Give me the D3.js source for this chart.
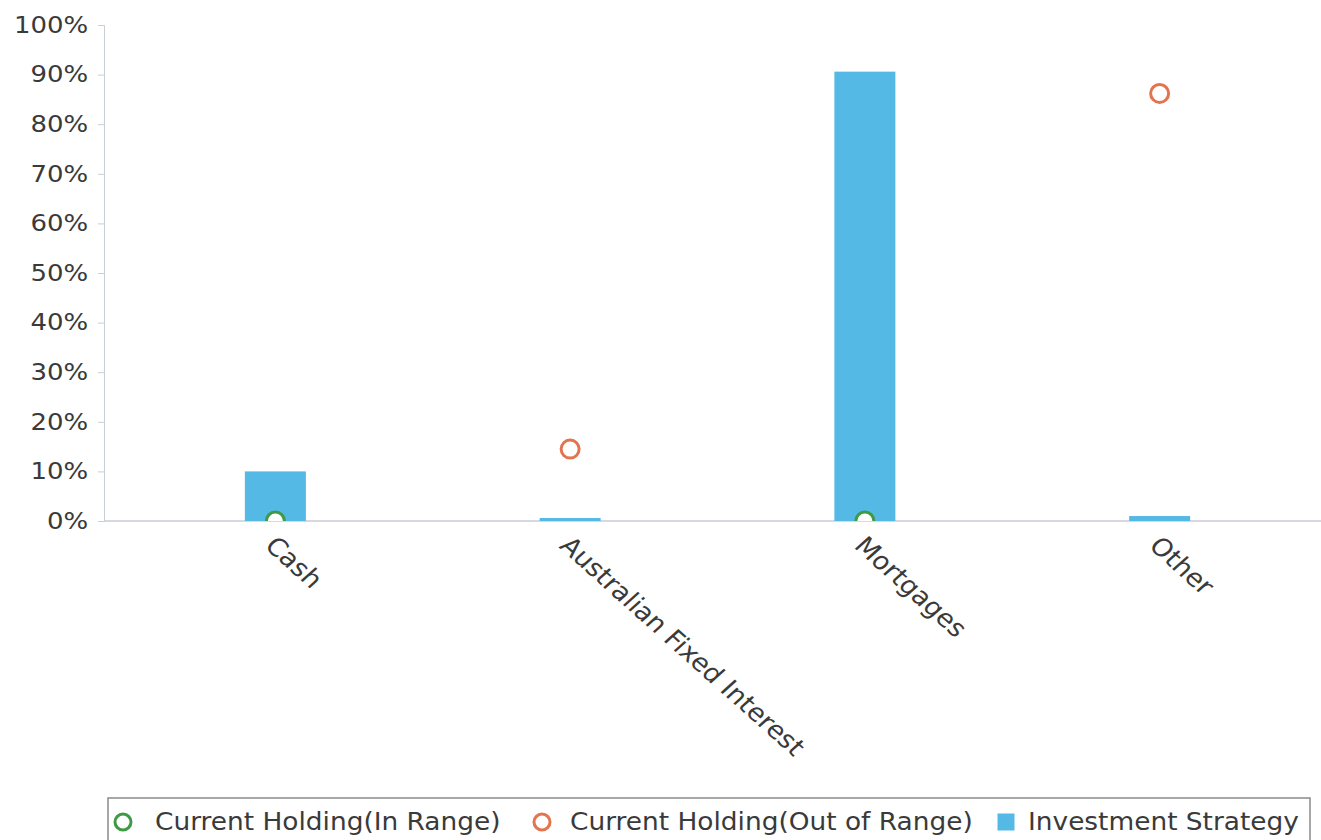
<!DOCTYPE html>
<html>
<head>
<meta charset="utf-8">
<script src="https://cdn.jsdelivr.net/npm/d3@7"></script>
<style>
  body { margin: 0; background: #fff; }
  text { font-family: "DejaVu Sans", sans-serif; fill: #3a3a3a; }
</style>
</head>
<body>
<div id="my_dataviz"></div>
<script>
// data
const categories = ["Cash", "Australian Fixed Interest", "Mortgages", "Other"];
const strategy = [10, 0.6, 90.6, 1.0];
const holding = [0, 14.5, 0, 86.2];
const inRange = [true, false, true, false];
const yTicks = [0, 10, 20, 30, 40, 50, 60, 70, 80, 90, 100];

const W = 1321, H = 840;
const margin = { top: 25, right: 0, bottom: 319, left: 104 },
  width = W - margin.left - margin.right,
  height = H - margin.top - margin.bottom;

const svg = d3.select("#my_dataviz")
  .append("svg")
  .attr("width", W)
  .attr("height", H);

const g = svg.append("g")
  .attr("transform", `translate(${margin.left},${margin.top})`);

// X scale
const x = d3.scaleBand()
  .domain(categories)
  .range([24, 1203])
  .padding(0);

// Y scale
const y = d3.scaleLinear()
  .domain([0, 100])
  .range([height, 0]);

// y axis
const yAxis = g.append("g")
  .call(d3.axisLeft(y).tickValues(yTicks).tickFormat(d => d + "%").tickSize(6).tickPadding(8));
yAxis.select(".domain").attr("stroke", "#c9cdd6");
yAxis.selectAll(".tick line").attr("stroke", "#c9cdd6");
yAxis.selectAll("text")
  .style("font-size", "23px")
  .attr("fill", "#3a3a3a")
  .attr("transform", "scale(1.13,1)");

// x axis line
g.append("line")
  .attr("x1", 0).attr("x2", width)
  .attr("y1", height).attr("y2", height)
  .attr("stroke", "#c9cdd6")
  .attr("stroke-width", 1.5);

// clip
svg.append("clipPath").attr("id", "plotclip")
  .append("rect").attr("x", 0).attr("y", -20).attr("width", width).attr("height", height + 20);

const plot = g.append("g").attr("clip-path", "url(#plotclip)");

// bars
const barW = 61;
plot.selectAll("rect.bar")
  .data(categories)
  .join("rect")
  .attr("class", "bar")
  .attr("x", (d, i) => x(d) + x.bandwidth() / 2 - barW / 2)
  .attr("y", (d, i) => y(strategy[i]))
  .attr("width", barW)
  .attr("height", (d, i) => height - y(strategy[i]))
  .attr("fill", "#55b9e6");

// holdings markers
plot.selectAll("circle.hold")
  .data(categories)
  .join("circle")
  .attr("class", "hold")
  .attr("cx", d => x(d) + x.bandwidth() / 2)
  .attr("cy", (d, i) => y(holding[i]))
  .attr("r", 9)
  .attr("fill", "#fff")
  .attr("stroke", (d, i) => inRange[i] ? "#3e9a45" : "#e4734f")
  .attr("stroke-width", 3);

// x labels
g.selectAll("text.xlab")
  .data(categories)
  .join("text")
  .attr("class", "xlab")
  .attr("transform", d => `translate(${x(d) + x.bandwidth() / 2 - 12},${height + 26}) scale(1.12,1) rotate(45)`)
  .attr("text-anchor", "start")
  .style("font-size", "24.5px")
  .text(d => d);

// legend
const legend = svg.append("g").attr("transform", "translate(108,798)");
legend.append("rect")
  .attr("x", 0).attr("y", 0).attr("width", 1202).attr("height", 46)
  .attr("fill", "#fff").attr("stroke", "#8a8a8a").attr("stroke-width", 1.5);

const legendItems = [
  { label: "Current Holding(In Range)", type: "circle", color: "#3e9a45", x: 15, tx: 47 },
  { label: "Current Holding(Out of Range)", type: "circle", color: "#e4734f", x: 434, tx: 462 },
  { label: "Investment Strategy", type: "square", color: "#55b9e6", x: 898, tx: 920 }
];
legendItems.forEach(it => {
  if (it.type === "circle") {
    legend.append("circle").attr("cx", it.x).attr("cy", 24).attr("r", 8)
      .attr("fill", "#fff").attr("stroke", it.color).attr("stroke-width", 3);
  } else {
    legend.append("rect").attr("x", it.x - 8.5).attr("y", 15.5).attr("width", 17).attr("height", 17)
      .attr("fill", it.color);
  }
  legend.append("text")
    .attr("transform", `translate(${it.tx},32) scale(1.1,1)`)
    .style("font-size", "24px")
    .text(it.label);
});
</script>
</body>
</html>
